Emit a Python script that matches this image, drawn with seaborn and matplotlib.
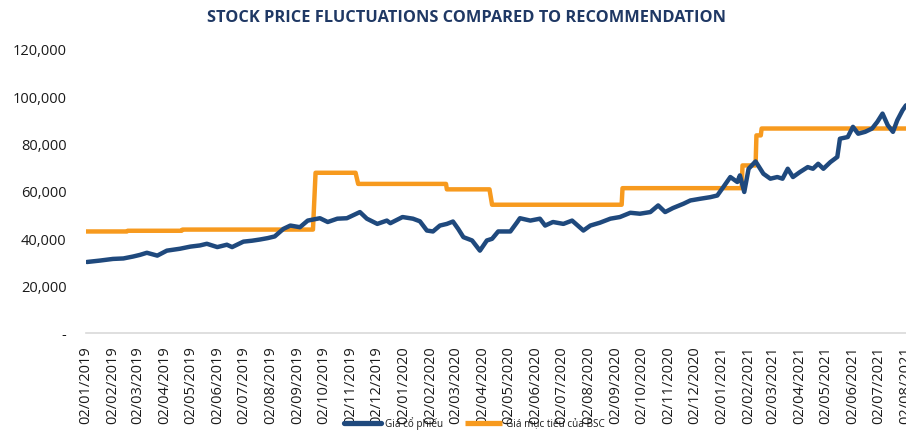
import matplotlib
matplotlib.use("Agg")
import matplotlib.pyplot as plt
from matplotlib.ticker import FuncFormatter
from matplotlib.lines import Line2D
import seaborn as sns
import pandas as pd

# ---------------- data ----------------
price_dates = [
    "2019-01-03", "2019-01-18", "2019-02-02", "2019-02-14", "2019-02-25", "2019-03-05",
    "2019-03-13", "2019-03-25", "2019-04-05", "2019-04-20", "2019-05-02", "2019-05-13",
    "2019-05-21", "2019-06-02", "2019-06-13", "2019-06-19", "2019-07-02", "2019-07-12",
    "2019-07-21", "2019-07-30", "2019-08-07", "2019-08-17", "2019-08-25", "2019-09-05",
    "2019-09-14", "2019-09-28", "2019-10-07", "2019-10-18", "2019-10-29", "2019-11-13",
    "2019-11-21", "2019-12-03", "2019-12-14", "2019-12-18", "2020-01-01", "2020-01-13",
    "2020-01-21", "2020-01-29", "2020-02-05", "2020-02-13", "2020-02-21", "2020-02-28",
    "2020-03-05", "2020-03-11", "2020-03-21", "2020-03-30", "2020-04-07", "2020-04-13",
    "2020-04-20", "2020-05-04", "2020-05-12", "2020-05-15", "2020-05-27", "2020-06-07",
    "2020-06-13", "2020-06-22", "2020-07-04", "2020-07-14", "2020-07-27", "2020-08-04",
    "2020-08-15", "2020-08-27", "2020-09-07", "2020-09-19", "2020-09-30", "2020-10-12",
    "2020-10-21", "2020-10-29", "2020-11-07", "2020-11-19", "2020-11-27", "2020-12-08",
    "2020-12-20", "2020-12-28", "2021-01-04", "2021-01-12", "2021-01-20", "2021-01-23",
    "2021-01-28", "2021-02-02", "2021-02-10", "2021-02-19", "2021-02-27", "2021-03-07",
    "2021-03-13", "2021-03-19", "2021-03-25", "2021-04-02", "2021-04-11", "2021-04-17",
    "2021-04-23", "2021-04-29", "2021-05-07", "2021-05-15", "2021-05-18", "2021-05-27",
    "2021-06-02", "2021-06-08", "2021-06-16", "2021-06-24", "2021-06-30", "2021-07-06",
    "2021-07-12", "2021-07-18", "2021-07-23", "2021-07-29", "2021-08-02",
]
price_values = [
    30000, 30600, 31300, 31500, 32300, 33000,
    33900, 32700, 34800, 35600, 36500, 37000,
    37700, 36300, 37300, 36300, 38600, 39000,
    39500, 40100, 40800, 44000, 45400, 44700,
    47500, 48500, 46900, 48300, 48500, 51100,
    48300, 46100, 47500, 46400, 49000, 48300,
    47200, 43300, 42900, 45400, 46100, 47100,
    44000, 40500, 39100, 34800, 39100, 39800,
    42900, 42900, 46900, 48500, 47500, 48300,
    45400, 46900, 46100, 47500, 43300, 45400,
    46600, 48300, 49000, 50800, 50400, 51100,
    53900, 51100, 52800, 54600, 56000, 56700,
    57400, 58100, 61700, 65900, 63800, 66600,
    59600, 69400, 72500, 67300, 65200, 65900,
    65200, 69400, 65900, 68000, 70100, 69400,
    71500, 69400, 72200, 74400, 82100, 82800,
    87100, 84200, 85000, 86400, 89200, 92700,
    87800, 85000, 89900, 94100, 96200,
]

target_change_dates = [
    "2019-01-02", "2019-02-19", "2019-04-23", "2019-09-23", "2019-11-11",
    "2020-02-21", "2020-04-13", "2020-09-10", "2021-01-26", "2021-02-11", "2021-02-17",
]
target_values = [
    42900, 43200, 43700, 67700, 63000,
    60700, 54200, 61200, 70800, 83500, 86400,
]
end_date = "2021-08-02"

series_names = ["Giá cổ phiếu", "Giá mục tiêu của BSC"]
title_text = "STOCK PRICE FLUCTUATIONS COMPARED TO RECOMMENDATION"

# ---------------- build tables ----------------
price_df = pd.DataFrame({"date": pd.to_datetime(price_dates),
                         "value": price_values,
                         "series": series_names[0]})
days = pd.bdate_range(target_change_dates[0], end_date)
target_series = pd.Series(target_values, index=pd.to_datetime(target_change_dates)).reindex(days, method="ffill")
target_df = pd.DataFrame({"date": days, "value": target_series.values, "series": series_names[1]})
df = pd.concat([price_df, target_df], ignore_index=True)

# ---------------- style ----------------
sns.set_style("white")
plt.rcParams["font.family"] = ["Open Sans", "DejaVu Sans"]

BLUE = "#1F497D"
ORANGE = "#F79A1E"
TEXT = "#1a1a1a"

fig = plt.figure(figsize=(9.06, 4.31), dpi=100)
ax = fig.add_axes([86 / 906, 1 - 334 / 431, 820 / 906, (334 - 50) / 431])

sns.lineplot(data=df, x="date", y="value", hue="series",
             palette=[BLUE, ORANGE], hue_order=series_names,
             estimator=None, linewidth=3.2, ax=ax, legend=False)
for ln in ax.lines:
    ln.set_solid_capstyle("round")
    ln.set_solid_joinstyle("round")
ax.lines[0].set_zorder(3)
ax.lines[1].set_zorder(2)

ax.set_ylim(0, 120000)
ax.set_yticks(range(0, 120001, 20000))
ax.yaxis.set_major_formatter(FuncFormatter(lambda v, p: "-" if v == 0 else f"{v:,.0f}"))

ticks = pd.date_range("2019-01-02", end_date, freq=pd.DateOffset(months=1))
ax.set_xticks(ticks)
ax.set_xticklabels([t.strftime("%d/%m/%Y") for t in ticks], rotation=90)
ax.set_xlim(pd.Timestamp("2019-01-02"), pd.Timestamp(end_date))

ax.set_xlabel("")
ax.set_ylabel("")
for s in ["left", "top", "right"]:
    ax.spines[s].set_visible(False)
ax.spines["bottom"].set_color("#D9D9D9")
ax.spines["bottom"].set_linewidth(1.2)
ax.tick_params(axis="x", direction="out", length=5, width=1.2, color="#D9D9D9",
               labelsize=10.5, labelcolor=TEXT, pad=4)
ax.tick_params(axis="y", length=0, labelsize=10.5, labelcolor=TEXT, pad=14)
ax.grid(False)

fig.text(467 / 906, 1 - 18 / 431, title_text, ha="center", va="center",
         fontsize=11.8, fontweight="bold", color="#1F3864")

handles = [Line2D([], [], color=BLUE, lw=3.8, solid_capstyle="round"),
           Line2D([], [], color=ORANGE, lw=3.8, solid_capstyle="butt")]
fig.legend(handles, series_names, loc="center", bbox_to_anchor=(474 / 906, 1 - 424 / 431),
           ncol=2, frameon=False, fontsize=7.2, handlelength=3.7, handletextpad=0.4,
           columnspacing=2.2, labelcolor=TEXT)

fig.savefig("out.png", dpi=100)
